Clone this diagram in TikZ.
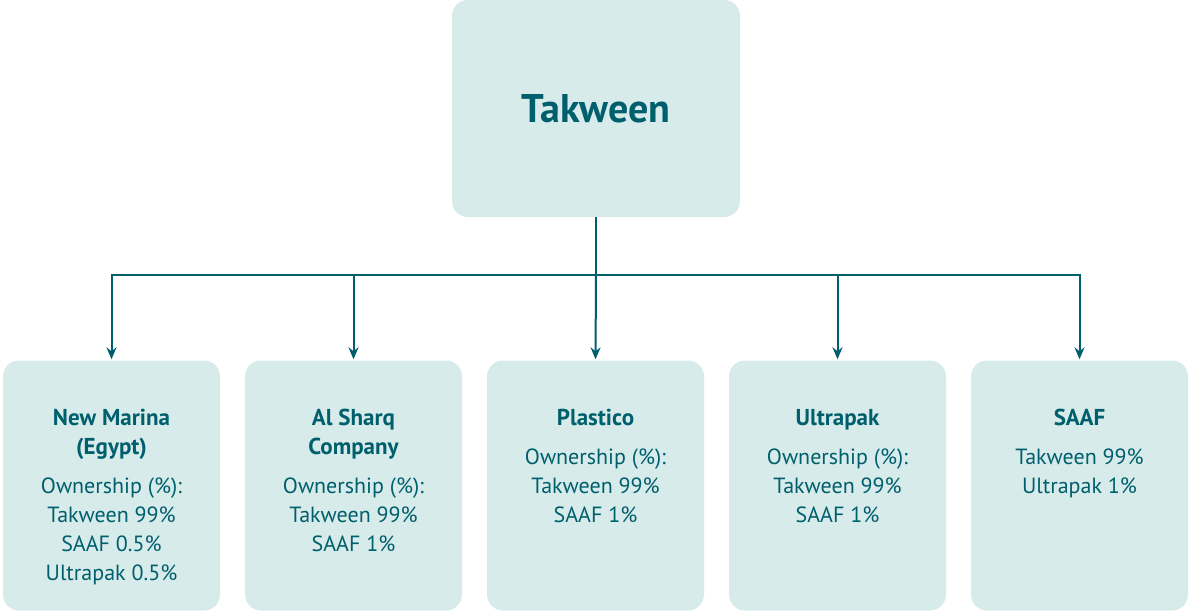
\documentclass[tikz,border=0pt]{standalone}
\usepackage{fontspec}
\setmainfont{PT Sans}
\usetikzlibrary{arrows.meta}
\definecolor{inkteal}{HTML}{005F6C}
\definecolor{boxfill}{HTML}{D7EBEA}
\newcommand{\cardhead}[1]{{\fontsize{23}{29}\selectfont\bfseries #1}}
\begin{document}
\begin{tikzpicture}[x=1pt,y=-1pt,
  card/.style={fill=boxfill, draw=none, rounded corners=16pt, inner sep=0pt},
  topcard/.style={card, minimum width=288pt, minimum height=217pt},
  subcard/.style={card, minimum width=217pt, minimum height=250pt},
  cardtext/.style={text=inkteal, align=center, inner sep=0pt, anchor=north,
    font=\fontsize{22}{29}\selectfont},
  conn/.style={draw=inkteal, line width=2pt},
  feed/.style={conn, -{Stealth[length=12pt,width=10pt,inset=4pt]}, shorten >=1pt}]
\useasboundingbox (0,0) rectangle (1189,611);

% parent company
\node[topcard, text=inkteal, font=\fontsize{40}{46}\selectfont\bfseries] (top) at (596,108.5) {Takween};

% subsidiaries
\node[subcard] (b1) at (111.5,485.5) {};
\node[subcard] (b2) at (353.5,485.5) {};
\node[subcard] (b3) at (595.5,485.5) {};
\node[subcard] (b4) at (837.5,485.5) {};
\node[subcard] (b5) at (1079.5,485.5) {};

\node[cardtext] (t1) at (111.5,409) {\cardhead{New Marina}\\\cardhead{(Egypt)}\\[10pt]Ownership (\%):\\Takween 99\%\\SAAF 0.5\%\\Ultrapak 0.5\%};
\node[cardtext] (t2) at (353.5,409) {\cardhead{Al Sharq}\\\cardhead{Company}\\[10pt]Ownership (\%):\\Takween 99\%\\SAAF 1\%};
\node[cardtext] (t3) at (595.5,409) {\cardhead{Plastico}\\[10pt]Ownership (\%):\\Takween 99\%\\SAAF 1\%};
\node[cardtext] (t4) at (837.5,409) {\cardhead{Ultrapak}\\[10pt]Ownership (\%):\\Takween 99\%\\SAAF 1\%};
\node[cardtext] (t5) at (1079.5,409) {\cardhead{SAAF}\\[10pt]Takween 99\%\\Ultrapak 1\%};

% ownership connectors
\coordinate (bus) at (596,275);
\draw[conn] (top.south) -- (bus);
\draw[feed] (bus) -| (b1.north);
\draw[feed] (bus) -| (b2.north);
\draw[feed] (bus) -- (b3.north);
\draw[feed] (bus) -| (b4.north);
\draw[feed] (bus) -| (b5.north);
\end{tikzpicture}
\end{document}
